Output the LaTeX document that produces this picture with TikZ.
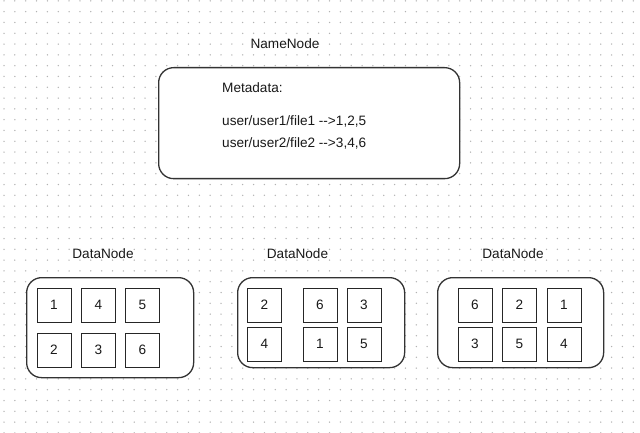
\documentclass[tikz,border=0pt]{standalone}
\usepackage{fontspec}
\setmainfont{Liberation Sans}
\begin{document}
\begin{tikzpicture}[x=1pt,y=-1pt,
  lbl/.style={font=\fontsize{13.6}{16}\selectfont, inner sep=0pt, text=black!90},
  bigbox/.style={draw=black!80, line width=1.3pt, rounded corners=15pt, fill=white},
  blk/.style={draw=black!85, line width=1pt, minimum size=34pt, inner sep=0pt, fill=white, font=\fontsize{13.6}{16}\selectfont, text=black!90},
  gdot/.style={fill=black!30}]
\useasboundingbox (0,0) rectangle (640,433);
\fill[white] (0,0) rectangle (640,433);
% dot grid
\foreach \i in {0,...,58}{
  \foreach \j in {0,...,40}{
    \fill[gdot] ({4+10.85*\i},{0.9+10.8*\j}) circle (0.75pt);
  }
}
% NameNode
\node[lbl] (nnlabel) at (285,44) {NameNode};
\node[bigbox, minimum width=301pt, minimum height=111pt, anchor=north west] (nn) at (158,67) {};
\node[lbl, anchor=west] (meta) at (222,88) {Metadata:};
\node[lbl, anchor=west] (f1) at (222,121.5) {user/user1/file1 -{}-{}>1,2,5};
\node[lbl, anchor=west] (f2) at (222,143.5) {user/user2/file2 -{}-{}>3,4,6};
% DataNode 1
\node[lbl] (d1label) at (103,254) {DataNode};
\node[bigbox, minimum width=167pt, minimum height=100pt, anchor=north west] (d1) at (26,277) {};
\node[blk] (a1) at (54,305) {1};
\node[blk] (a2) at (98.5,305) {4};
\node[blk] (a3) at (142.5,305) {5};
\node[blk] (a4) at (54,350) {2};
\node[blk] (a5) at (98.5,350) {3};
\node[blk] (a6) at (142.5,350) {6};
% DataNode 2
\node[lbl] (d2label) at (297.5,254) {DataNode};
\node[bigbox, minimum width=167pt, minimum height=90pt, anchor=north west] (d2) at (237,277) {};
\node[blk] (b1) at (264.5,305) {2};
\node[blk] (b2) at (320,305) {6};
\node[blk] (b3) at (364,305) {3};
\node[blk] (b4) at (264.5,344) {4};
\node[blk] (b5) at (320,344) {1};
\node[blk] (b6) at (364,344) {5};
% DataNode 3
\node[lbl] (d3label) at (513,254) {DataNode};
\node[bigbox, minimum width=166pt, minimum height=90pt, anchor=north west] (d3) at (437,277) {};
\node[blk] (c1) at (475,305) {6};
\node[blk] (c2) at (519.5,305) {2};
\node[blk] (c3) at (564,305) {1};
\node[blk] (c4) at (475,344) {3};
\node[blk] (c5) at (519.5,344) {5};
\node[blk] (c6) at (564,344) {4};
\end{tikzpicture}
\end{document}
